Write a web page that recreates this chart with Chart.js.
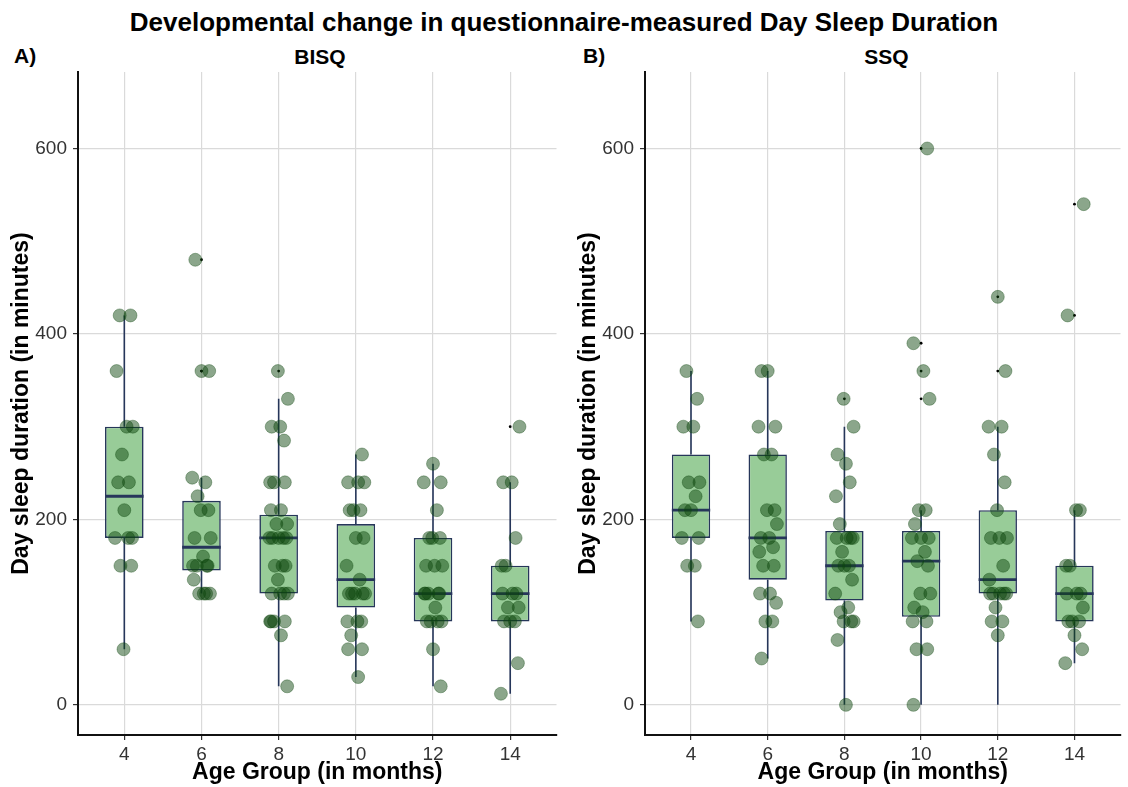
<!DOCTYPE html>
<html>
<head>
<meta charset="utf-8">
<script src="https://cdn.jsdelivr.net/npm/chart.js@4.4.1/dist/chart.umd.min.js"></script>
<style>
  html, body { margin: 0; padding: 0; background: #ffffff; }
  body { width: 1128px; height: 787px; position: relative; overflow: hidden;
         font-family: "Liberation Sans", Arial, Helvetica, sans-serif; color: #000; }
  .txt { position: absolute; font-weight: bold; white-space: nowrap; line-height: 1; }
  #mainTitle { left: 0; width: 1128px; top: 9px; text-align: center; font-size: 26px; }
  #tagA { left: 14px; top: 45px; font-size: 21px; }
  #tagB { left: 583px; top: 45px; font-size: 21px; }
  #headA { left: 78px; width: 484px; top: 46px; text-align: center; font-size: 21px; }
  #headB { left: 645px; width: 483px; top: 46px; text-align: center; font-size: 21px; }
  .panel { position: absolute; top: 0; height: 787px; }
  #panelA { left: 0; width: 564px; }
  #panelB { left: 567px; width: 561px; }
</style>
</head>
<body>
<div class="txt" id="mainTitle">Developmental change in questionnaire-measured Day Sleep Duration</div>
<div class="txt" id="tagA">A)</div>
<div class="txt" id="headA">BISQ</div>
<div class="txt" id="tagB">B)</div>
<div class="txt" id="headB">SSQ</div>
<div class="panel" id="panelA"><canvas id="chartA"></canvas></div>
<div class="panel" id="panelB"><canvas id="chartB"></canvas></div>

<script>
// Age groups on the x axis and the y-axis tick values (minutes)
const AGE_GROUPS = ['4', '6', '8', '10', '12', '14'];
const Y_TICKS = [0, 200, 400, 600];

// BISQ: reported day sleep per child, one list per age group
const BISQ_VALUES = [
  [420, 420, 360, 300, 300, 270, 240, 240, 210, 180, 180, 180, 150, 150, 60],
  [480, 360, 360, 245, 240, 225, 210, 210, 180, 180, 160, 150, 150, 150, 150, 135, 120, 120, 120, 120],
  [360, 330, 300, 300, 285, 240, 240, 240, 210, 210, 195, 195, 180, 180, 180, 180, 180, 150, 150, 150, 135, 120, 120, 120, 120, 90, 90, 90, 90, 75, 20],
  [270, 240, 240, 240, 210, 210, 210, 180, 180, 150, 135, 120, 120, 120, 120, 120, 90, 90, 90, 75, 60, 60, 30],
  [260, 240, 240, 210, 180, 180, 180, 150, 150, 150, 120, 120, 120, 120, 120, 105, 90, 90, 90, 90, 60, 20],
  [300, 240, 240, 180, 150, 150, 120, 120, 120, 105, 105, 90, 90, 90, 45, 12]
];
// BISQ box summaries per age group
const BISQ_LOWER  = [60, 120, 20, 30, 20, 12];
const BISQ_Q1     = [180, 145, 120, 105, 90, 90];
const BISQ_MEDIAN = [225, 170, 180, 135, 120, 120];
const BISQ_Q3     = [300, 220, 205, 195, 180, 150];
const BISQ_UPPER  = [420, 245, 330, 270, 260, 240];

// SSQ: reported day sleep per child, one list per age group
const SSQ_VALUES = [
  [360, 330, 300, 300, 240, 240, 225, 210, 210, 180, 180, 150, 150, 90],
  [360, 360, 300, 300, 270, 270, 210, 210, 195, 180, 180, 170, 165, 150, 150, 120, 120, 110, 90, 90, 50],
  [330, 300, 270, 260, 240, 225, 195, 180, 180, 180, 180, 165, 150, 150, 150, 135, 120, 105, 100, 90, 90, 90, 70, 0],
  [600, 390, 360, 330, 210, 210, 195, 180, 180, 180, 165, 155, 150, 120, 120, 105, 100, 90, 90, 60, 60, 0],
  [440, 360, 300, 300, 270, 240, 210, 180, 180, 180, 150, 135, 120, 120, 120, 120, 120, 105, 90, 90, 75],
  [540, 420, 210, 210, 150, 150, 120, 120, 120, 105, 90, 90, 90, 75, 60, 45]
];
// SSQ box summaries per age group
const SSQ_LOWER  = [90, 50, 0, 0, 0, 45];
const SSQ_Q1     = [180, 135, 112.5, 95, 120, 90];
const SSQ_MEDIAN = [210, 180, 150, 155, 135, 120];
const SSQ_Q3     = [270, 270, 187.5, 187.5, 210, 150];
const SSQ_UPPER  = [360, 360, 300, 210, 300, 210];

// fixed horizontal spread for the individual points (fraction of a group slot)
const JITTER = [-0.06, 0.08, -0.10, 0.03, 0.11, -0.03, 0.06, -0.08, 0.00, 0.10,
                -0.12, 0.05, -0.05, 0.09, -0.01, 0.12, -0.09, 0.02, 0.07, -0.11];

const FONT = '"Liberation Sans", Arial, Helvetica, sans-serif';
const BOX_FILL = '#98cc98';
const BOX_LINE = '#26365a';
const POINT_FILL = 'rgba(12, 70, 12, 0.48)';
const POINT_EDGE = 'rgba(12, 70, 12, 0.35)';
const GRID = '#dadada';

Chart.defaults.font.family = FONT;
Chart.defaults.color = '#333333';

function buildPanel(canvasId, values, lower, q1, med, q3, upper, rightPad) {
  const boxes = [], whiskers = [], medians = [], outliers = [], points = [];
  AGE_GROUPS.forEach((g, i) => {
    const x = i + 1;
    boxes.push({ x: x, y: [q1[i], q3[i]] });
    whiskers.push({ x: x, y: lower[i] }, { x: x, y: q1[i] }, { x: x, y: null },
                  { x: x, y: q3[i] }, { x: x, y: upper[i] }, { x: x, y: null });
    medians.push({ x: x - 0.25, y: med[i] }, { x: x + 0.25, y: med[i] }, { x: x, y: null });
    values[i].forEach((v, j) => {
      if (v > upper[i] || v < lower[i]) outliers.push({ x: x, y: v });
      points.push({ x: x + JITTER[(j + i * 7) % JITTER.length], y: v });
    });
  });

  return new Chart(document.getElementById(canvasId), {
    type: 'bar',
    data: {
      datasets: [
        { type: 'scatter', data: points, backgroundColor: POINT_FILL, borderColor: POINT_EDGE,
          borderWidth: 1, pointRadius: 6.5, order: 0 },
        { type: 'scatter', data: outliers, backgroundColor: '#000000', borderWidth: 0,
          pointRadius: 1.4, order: 1 },
        { type: 'line', data: medians, borderColor: BOX_LINE, borderWidth: 2.8,
          pointRadius: 0, spanGaps: false, fill: false, order: 2 },
        { type: 'bar', data: boxes, backgroundColor: BOX_FILL, borderColor: BOX_LINE,
          borderWidth: 1.6, borderSkipped: false, barPercentage: 0.5,
          categoryPercentage: 1.0, order: 3 },
        { type: 'line', data: whiskers, borderColor: BOX_LINE, borderWidth: 1.6,
          pointRadius: 0, spanGaps: false, fill: false, order: 4 }
      ]
    },
    options: {
      responsive: true,
      maintainAspectRatio: false,
      animation: false,
      devicePixelRatio: 1,
      layout: { padding: { top: 72, right: rightPad, left: 0, bottom: 0 } },
      plugins: { legend: { display: false }, tooltip: { enabled: false }, title: { display: false } },
      scales: {
        x: {
          type: 'linear', min: 0.4, max: 6.6, offset: false,
          afterBuildTicks: s => { s.ticks = AGE_GROUPS.map((g, i) => ({ value: i + 1 })); },
          afterFit: s => { s.height = 52; },
          ticks: { autoSkip: false, maxRotation: 0, padding: 3, color: '#333333',
                   font: { size: 19 }, callback: v => AGE_GROUPS[v - 1] },
          grid: { color: GRID, lineWidth: 1.2, offset: false, tickLength: 5, tickColor: '#333333' },
          border: { display: true, color: '#111111', width: 2 },
          title: { display: true, text: 'Age Group (in months)', color: '#000000',
                   font: { size: 23, weight: 'bold' }, padding: { top: 0, bottom: 1 } }
        },
        y: {
          type: 'linear', min: -32.5, max: 682.5,
          afterBuildTicks: s => { s.ticks = Y_TICKS.map(v => ({ value: v })); },
          afterFit: s => { s.width = 78; },
          ticks: { padding: 6, color: '#333333', font: { size: 19 }, callback: v => String(v) },
          grid: { color: GRID, lineWidth: 1.2, tickLength: 5, tickColor: '#333333' },
          border: { display: true, color: '#111111', width: 2 },
          title: { display: true, text: 'Day sleep duration (in minutes)', color: '#000000',
                   font: { size: 23, weight: 'bold' }, padding: { top: 8, bottom: 0 } }
        }
      }
    }
  });
}

buildPanel('chartA', BISQ_VALUES, BISQ_LOWER, BISQ_Q1, BISQ_MEDIAN, BISQ_Q3, BISQ_UPPER, 2);
buildPanel('chartB', SSQ_VALUES, SSQ_LOWER, SSQ_Q1, SSQ_MEDIAN, SSQ_Q3, SSQ_UPPER, 0);
</script>
</body>
</html>
